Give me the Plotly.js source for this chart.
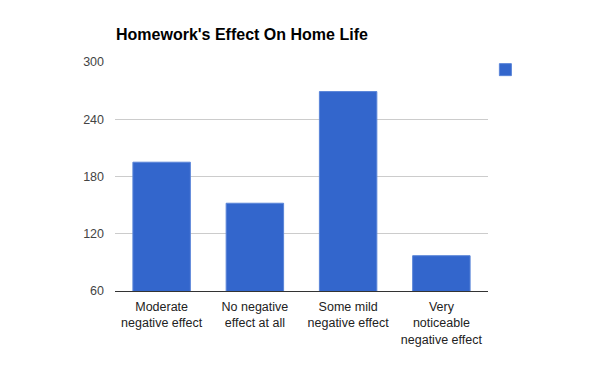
<!DOCTYPE html>
<html>
<head>
<meta charset="utf-8">
<script src="https://cdn.plot.ly/plotly-3.0.1.min.js"></script>
<style>html,body{margin:0;padding:0;background:#fff;}</style>
</head>
<body>
<div id="chart" style="width:600px;height:366px;"></div>
<script>
var categories = ["Moderate<br>negative effect", "No negative<br>effect at all", "Some mild<br>negative effect", "Very<br>noticeable<br>negative effect"];
var values = [195, 152, 269, 97];
var yTicks = [60, 120, 180, 240, 300];

var trace = {
  type: 'bar',
  x: categories,
  y: values,
  name: ' ',
  marker: {color: '#3366cc', line: {color: '#5a85d8', width: 1}},
  showlegend: true,
  hoverinfo: 'x+y'
};

var layout = {
  width: 600,
  height: 366,
  margin: {l: 115, r: 112, t: 62, b: 75},
  paper_bgcolor: '#fff',
  plot_bgcolor: '#fff',
  font: {family: 'Liberation Sans, Arial, sans-serif', size: 12, color: '#444'},
  title: {
    text: "<b>Homework's Effect On Home Life</b>",
    font: {family: 'Liberation Sans, Arial, sans-serif', size: 16, color: '#000'},
    x: 116/600, xanchor: 'left', xref: 'container',
    y: 1 - 34/366, yanchor: 'middle', yref: 'container'
  },
  bargap: 0.384,
  xaxis: {
    type: 'category',
    showline: true, linecolor: '#333', linewidth: 1,
    showgrid: false, ticks: '', tickfont: {size: 12.5, color: '#222'},
    ticklabelstandoff: 4,
    fixedrange: true
  },
  yaxis: {
    range: [60, 300],
    tickvals: yTicks,
    ticktext: yTicks.map(String),
    showgrid: true, gridcolor: '#ccc', gridwidth: 1,
    zeroline: false, showline: false, ticks: '',
    ticklabelstandoff: 10,
    tickfont: {size: 12.5, color: '#444'},
    fixedrange: true
  },
  legend: {
    x: 0.993, xanchor: 'left', y: 1.03, yanchor: 'top',
    font: {size: 12}, bgcolor: 'rgba(0,0,0,0)'
  }
};

Plotly.newPlot('chart', [trace], layout, {displayModeBar: false, staticPlot: true});
</script>
</body>
</html>
